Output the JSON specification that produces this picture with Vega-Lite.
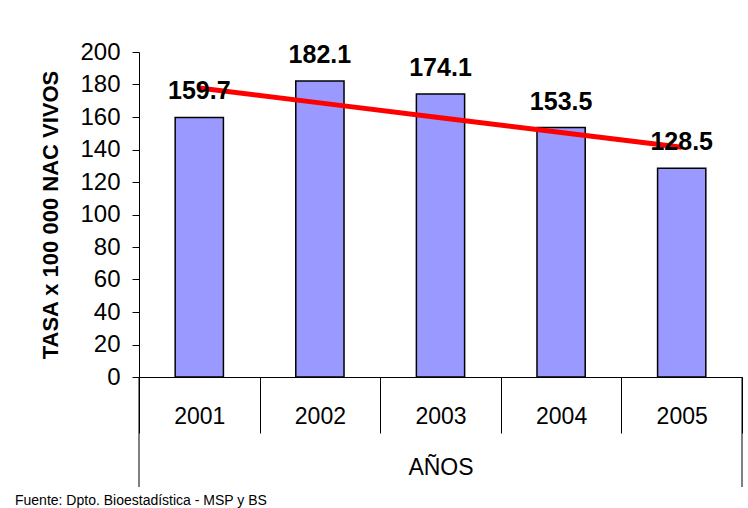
{
  "$schema": "https://vega.github.io/schema/vega-lite/v6.json",
  "width": 603,
  "height": 325,
  "autosize": {"type": "none"},
  "padding": {"left": 139, "top": 52, "right": 6, "bottom": 131},
  "config": {"font": "Liberation Sans", "view": {"stroke": null}},
  "title": {"text": "Fuente: Dpto. Bioestadística - MSP y BS", "orient": "bottom", "anchor": "start", "frame": "group", "fontSize": 14, "fontWeight": "normal", "color": "black", "dx": -124, "offset": 6},
  "data": {"values": [
    {"year": "2001", "value": 159.7, "trend": 177.8},
    {"year": "2002", "value": 182.1, "trend": 168.7},
    {"year": "2003", "value": 174.1, "trend": 159.6},
    {"year": "2004", "value": 153.5, "trend": 150.5},
    {"year": "2005", "value": 128.5, "trend": 141.4}
  ]},
  "layer": [
    {
      "layer": [
        {
          "mark": {"type": "bar", "fill": "#9999FF", "stroke": "black", "strokeWidth": 1.5, "width": {"band": 0.4}},
          "encoding": {
            "x": {"field": "year", "type": "ordinal", "scale": {"paddingInner": 0, "paddingOuter": 0},
              "axis": {"title": "AÑOS", "labelFontSize": 23, "labelColor": "black", "labelAngle": 0, "tickBand": "extent", "tickSize": 56, "tickColor": "black", "domainColor": "black", "labelPadding": -28, "titleFontSize": 23, "titleFontWeight": "normal", "titleColor": "black", "titlePadding": 23}},
            "y": {"field": "value", "type": "quantitative", "scale": {"domain": [0, 200]},
              "axis": {"title": "TASA x 100 000 NAC VIVOS", "values": [0, 20, 40, 60, 80, 100, 120, 140, 160, 180, 200], "tickCount": 20, "labelOverlap": false, "grid": false, "labelFontSize": 24, "labelColor": "black", "tickColor": "black", "domainColor": "black", "tickSize": 7, "labelPadding": 12, "titleFontSize": 22, "titleFontWeight": "bold", "titleColor": "black", "titlePadding": 17}}
          }
        },
        {
          "mark": {"type": "line", "color": "#FF0000", "strokeWidth": 5},
          "encoding": {
            "x": {"field": "year", "type": "ordinal"},
            "y": {"field": "trend", "type": "quantitative"}
          }
        },
        {
          "mark": {"type": "text", "fontSize": 25, "fontWeight": "bold", "color": "black", "baseline": "alphabetic", "dy": -18},
          "encoding": {
            "x": {"field": "year", "type": "ordinal"},
            "y": {"field": "value", "type": "quantitative"},
            "text": {"field": "value", "type": "quantitative", "format": ".1f"}
          }
        }
      ]
    },
    {
      "data": {"values": [{"edge": 0}, {"edge": 1}]},
      "mark": {"type": "rule", "color": "black", "strokeWidth": 1, "clip": false},
      "encoding": {
        "x": {"field": "edge", "type": "quantitative", "scale": {"domain": [0, 1], "nice": false}, "axis": null},
        "y": {"datum": 0, "type": "quantitative", "scale": {"domain": [0, 200], "nice": false, "zero": false}, "axis": null},
        "y2": {"datum": -67.7}
      }
    }
  ],
  "resolve": {"scale": {"x": "independent", "y": "independent"}, "axis": {"x": "independent", "y": "independent"}}
}
